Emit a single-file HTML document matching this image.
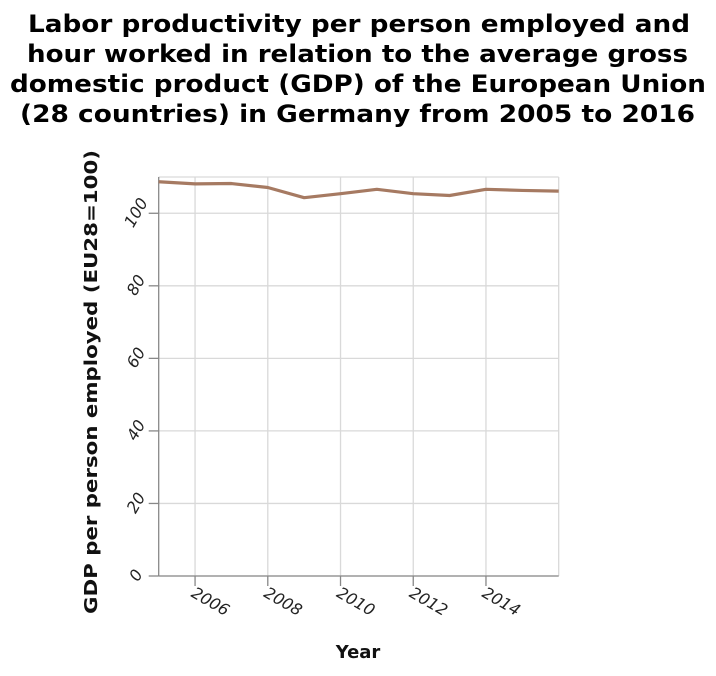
<!DOCTYPE html>
<html><head><meta charset="utf-8"><style>
body{margin:0;background:#fff;font-family:"DejaVu Sans","Liberation Sans",sans-serif}
</style></head><body>
<svg id="c" width="716" height="672" xmlns="http://www.w3.org/2000/svg">
<g font-size="24" font-weight="bold" fill="#000" font-family="DejaVu Sans, sans-serif">
<text x="28" y="32" textLength="662" lengthAdjust="spacingAndGlyphs">Labor productivity per person employed and</text>
<text x="27" y="62" textLength="661" lengthAdjust="spacingAndGlyphs">hour worked in relation to the average gross</text>
<text x="10" y="92" textLength="696" lengthAdjust="spacingAndGlyphs">domestic product (GDP) of the European Union</text>
<text x="20" y="122" textLength="675" lengthAdjust="spacingAndGlyphs">(28 countries) in Germany from 2005 to 2016</text>
</g>
<g id="grid"></g><g id="axes"></g><g id="plot"></g>
<text x="358" y="658" text-anchor="middle" font-size="18" font-weight="bold" fill="#111" font-family="DejaVu Sans, sans-serif">Year</text>
<text transform="translate(97,382) rotate(-90)" text-anchor="middle" font-size="18" font-weight="bold" fill="#111" font-family="DejaVu Sans, sans-serif" textLength="464" lengthAdjust="spacingAndGlyphs">GDP per person employed (EU28=100)</text>
</svg>
<script>
const years=[2005,2006,2007,2008,2009,2010,2011,2012,2013,2014,2015,2016];
const values=[108.7,108.1,108.2,107.1,104.3,105.4,106.6,105.4,104.9,106.6,106.3,106.1];
const xTicks=[2006,2008,2010,2012,2014];
const yTicks=[0,20,40,60,80,100];
const L=158.7,R=558.7,T=177,B=576;
const x=v=>L+(v-2005)/(2016-2005)*(R-L);
const y=v=>B-v/110*(B-T);
const NS="http://www.w3.org/2000/svg";
function mk(tag,attrs,parent){const e=document.createElementNS(NS,tag);for(const k in attrs)e.setAttribute(k,attrs[k]);document.getElementById(parent).appendChild(e);return e;}
const g='grid';
yTicks.concat([110]).forEach(v=>{const e=mk('line',{x1:L,x2:R,y1:y(v),y2:y(v),stroke:'#d9d9d9','stroke-width':1.3},g);

});
xTicks.concat([2016]).forEach(v=>{const e=mk('line',{x1:x(v),x2:x(v),y1:T,y2:B,stroke:'#d9d9d9','stroke-width':1.3},g);

});
let a=mk('line',{x1:L,x2:L,y1:T,y2:B,stroke:'#888','stroke-width':1.3},'axes');


a=mk('line',{x1:L,x2:R,y1:B,y2:B,stroke:'#888','stroke-width':1.3},'axes');


yTicks.forEach(v=>{mk('line',{x1:L-10,x2:L,y1:y(v),y2:y(v),stroke:'#888','stroke-width':1.3},'axes');
const t=mk('text',{x:0,y:0,transform:`translate(${L-18},${y(v)+2}) rotate(-60)`,'text-anchor':'middle','font-size':16,'font-style':'italic','font-family':'DejaVu Sans, sans-serif',fill:'#222'},'axes');t.textContent=v;

});
xTicks.forEach(v=>{mk('line',{x1:x(v),x2:x(v),y1:B,y2:B+10,stroke:'#888','stroke-width':1.3},'axes');
const t=mk('text',{x:0,y:0,transform:`translate(${x(v)-5},${B+20}) rotate(30)`,'text-anchor':'start','font-size':16,'font-style':'italic','font-family':'DejaVu Sans, sans-serif',fill:'#222'},'axes');t.textContent=v;

});
const p=mk('polyline',{points:years.map((yr,i)=>x(yr)+','+y(values[i])).join(' '),fill:'none',stroke:'#a67a62','stroke-width':3.2,'stroke-linejoin':'round'},'plot');


</script>
</body></html>
